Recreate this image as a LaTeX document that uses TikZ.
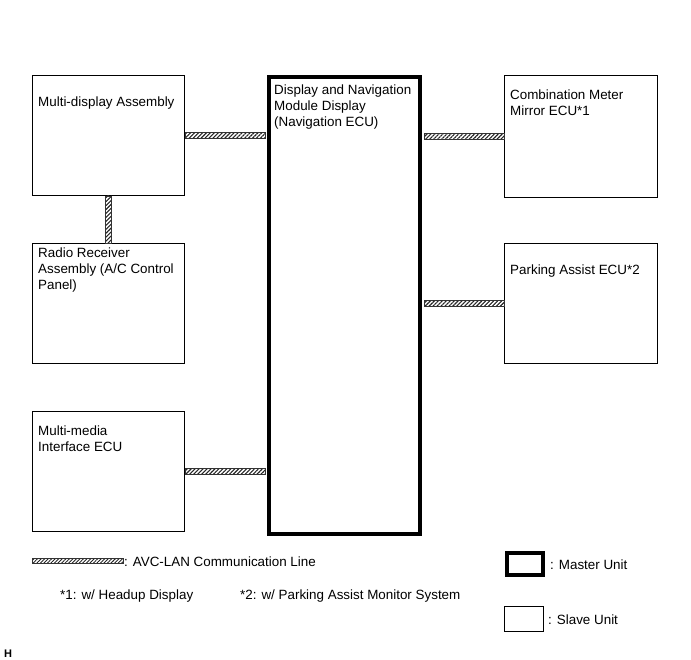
\documentclass[tikz,border=0pt]{standalone}
\usepackage{fontspec}
\setmainfont{Liberation Sans}
\usetikzlibrary{calc, patterns.meta}

\tikzset{
  unit/.style={draw, line width=1pt, anchor=north west, inner sep=0pt},
  master/.style={unit, line width=4pt},
  txt/.style={anchor=base west, inner sep=0pt, align=left,
    font=\fontsize{13.4}{16}\selectfont},
  avc/.style={draw=black!80, line width=0.6pt,
    pattern={Lines[angle=45, distance=2.8pt, line width=1.1pt]}, pattern color=black!85}
}

\begin{document}
\begin{tikzpicture}[x=1pt, y=-1pt]
            \useasboundingbox (0,0) rectangle (691,660);
            % units
            \node[unit, minimum width=152pt, minimum height=120pt] (mda) at (32,75) {};
            \node[unit, minimum width=152pt, minimum height=120pt] (rra) at (32,243) {};
            \node[unit, minimum width=152pt, minimum height=120pt] (mie) at (32,411) {};
            \node[master, minimum width=151pt, minimum height=457pt] (nav) at (267,75) {};
            \node[unit, minimum width=153pt, minimum height=122pt] (cmm) at (504,75) {};
            \node[unit, minimum width=153pt, minimum height=120pt] (pae) at (504,243) {};
            % texts (base = last line)
            \node[txt] at ($(mda.north west)+(6,32)$) {Multi-display Assembly};
            \node[txt] at ($(rra.north west)+(6,47)$) {Radio Receiver\\Assembly (A/C Control\\Panel)};
            \node[txt] at ($(mie.north west)+(6,40)$) {Multi-media\\Interface ECU};
            \node[txt] at ($(nav.north west)+(7,52)$) {Display and Navigation\\Module Display\\(Navigation ECU)};
            \node[txt] at ($(cmm.north west)+(6,41)$) {Combination Meter\\Mirror ECU*1};
            \node[txt] at ($(pae.north west)+(6,32)$) {Parking Assist ECU*2};
            % AVC-LAN lines
            \path[avc] ($(mda.east)+(0,-3)$) rectangle ($(nav.west|-mda.east)+(-2,3)$);
            \path[avc] ($(mie.east)+(0,-3)$) rectangle ($(nav.west|-mie.east)+(-2,3)$);
            \path[avc] ($(nav.east|-cmm.west)+(2,-3)$) rectangle ($(cmm.west)+(0,3)$);
            \path[avc] ($(nav.east|-pae.west)+(2,-3)$) rectangle ($(pae.west)+(0,3)$);
            \path[avc] ($(mda.south)+(-3,0)$) rectangle ($(rra.north)+(3,0)$);
            % legend
            \coordinate (la) at (32,558);
            \path[avc, pattern={Lines[angle=45, distance=2.5pt, line width=0.9pt]}] (la) rectangle ($(la)+(91,5)$);
            \node[txt] (lal) at ($(la)+(92,8)$) {: AVC-LAN Communication Line};
            \node[txt] (n1) at (60,599) {*1: w/ Headup Display};
            \node[txt] (n2) at (240,599) {*2: w/ Parking Assist Monitor System};
            \node[master, minimum width=36pt, minimum height=22pt] (lm) at (505,551) {};
            \node[txt] at ($(lm.east)+(5,5)$) {: Master Unit};
            \node[unit, minimum width=39pt, minimum height=25pt] (ls) at (504,606) {};
            \node[txt] at ($(ls.east)+(4,5)$) {: Slave Unit};
            \node[txt, font=\fontsize{11}{12}\bfseries] (h) at (4,657) {H};
        \end{tikzpicture}
\end{document}
